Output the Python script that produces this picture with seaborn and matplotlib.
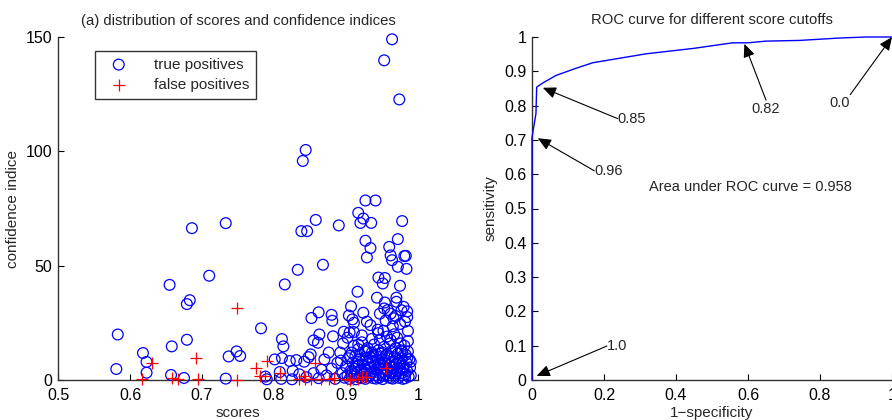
import matplotlib
matplotlib.use("Agg")
import matplotlib.pyplot as plt
import seaborn as sns
import numpy as np
import pandas as pd

# true positives : scores / confidence indices
tp_scores = [
    0.964, 0.953, 0.974, 0.844, 0.840, 0.941, 0.927, 0.917, 0.924, 0.920,
    0.935, 0.978, 0.733, 0.858, 0.890, 0.686, 0.838, 0.846, 0.927, 0.972,
    0.934, 0.960, 0.962, 0.964, 0.929, 0.981, 0.983, 0.972, 0.984, 0.868,
    0.833, 0.710, 0.945, 0.954, 0.951, 0.655, 0.815, 0.975, 0.916, 0.683,
    0.679, 0.943, 0.970, 0.970, 0.954, 0.907, 0.953, 0.958, 0.980, 0.985,
    0.962, 0.969, 0.862, 0.924, 0.880, 0.904, 0.852, 0.881, 0.909, 0.911,
    0.929, 0.982, 0.782, 0.897, 0.905, 0.911, 0.945, 0.952, 0.986, 0.583,
    0.863, 0.882, 0.811, 0.679, 0.855, 0.861, 0.936, 0.962, 0.971, 0.658,
    0.813, 0.917, 0.618, 0.748, 0.753, 0.737, 0.851, 0.623, 0.623, 0.581,
    0.801, 0.811, 0.822, 0.831, 0.842, 0.848, 0.657, 0.675, 0.733, 0.788,
    0.790, 0.810, 0.825, 0.808, 0.826, 0.835, 0.845, 0.855, 0.862, 0.866,
    0.873, 0.880, 0.885, 0.888, 0.870, 0.876,
    0.900, 0.902, 0.903, 0.905, 0.906, 0.908, 0.909, 0.910, 0.911, 0.912,
    0.913, 0.914, 0.915, 0.916, 0.917, 0.918, 0.919, 0.920, 0.921, 0.922,
    0.923, 0.924, 0.925, 0.926, 0.927, 0.928, 0.929, 0.930, 0.931, 0.932,
    0.933, 0.934, 0.935, 0.936, 0.937, 0.938, 0.939, 0.940, 0.941, 0.942,
    0.943, 0.944, 0.945, 0.946, 0.947, 0.948, 0.949, 0.950, 0.951, 0.952,
    0.953, 0.954, 0.955, 0.956, 0.957, 0.958, 0.959, 0.960, 0.961, 0.962,
    0.963, 0.964, 0.965, 0.966, 0.967, 0.968, 0.969, 0.970, 0.971, 0.972,
    0.973, 0.974, 0.975, 0.976, 0.977, 0.978, 0.979, 0.980, 0.981, 0.982,
    0.983, 0.984, 0.985, 0.986, 0.987, 0.988, 0.989, 0.990,
    0.905, 0.915, 0.925, 0.935, 0.945, 0.955, 0.965, 0.975, 0.985, 0.912,
    0.922, 0.932, 0.942, 0.952, 0.962, 0.972, 0.982, 0.928, 0.938, 0.948,
    0.958, 0.968, 0.978, 0.908, 0.918, 0.940, 0.950, 0.960, 0.970, 0.980,
    0.990, 0.895, 0.893, 0.898, 0.892, 0.896, 0.902, 0.957, 0.967, 0.947,
    0.976, 0.986, 0.944, 0.965, 0.975, 0.955, 0.985, 0.934, 0.922, 0.966,
    0.947, 0.977,
]
tp_conf = [
    149.0, 139.8, 122.7, 100.6, 95.8, 78.5, 78.5, 73.1, 70.6, 68.7,
    68.7, 69.5, 68.6, 70.0, 67.6, 66.4, 65.1, 65.1, 60.9, 61.6,
    57.7, 58.2, 54.5, 52.4, 53.6, 54.2, 54.3, 49.5, 48.6, 50.4,
    48.2, 45.6, 44.8, 44.6, 42.2, 41.6, 41.8, 41.2, 38.6, 34.9,
    33.2, 36.0, 36.0, 34.2, 33.9, 32.2, 31.3, 30.6, 32.0, 30.0,
    29.0, 28.0, 29.6, 29.4, 28.5, 28.2, 27.1, 25.9, 26.5, 25.0,
    25.5, 25.5, 22.6, 21.1, 20.8, 21.0, 20.5, 21.5, 21.5, 19.9,
    19.9, 19.1, 17.9, 17.6, 17.3, 16.3, 18.0, 17.5, 18.5, 14.7,
    14.7, 15.5, 11.8, 12.5, 10.5, 10.3, 11.2, 7.9, 3.2, 4.8,
    9.0, 9.6, 8.3, 8.7, 8.0, 10.0, 2.2, 0.9, 0.6, 1.5,
    0.3, 0.5, 0.3, 3.5, 4.0, 2.5, 1.2, 3.0, 0.8, 4.5,
    2.0, 5.0, 0.5, 7.5, 9.0, 12.0,
    6.0, 2.0, 9.5, 0.5, 4.0, 12.0, 7.5, 1.5, 15.0, 5.0,
    10.5, 0.3, 3.0, 8.0, 13.5, 6.5, 1.0, 11.0, 4.5, 16.5,
    8.5, 2.5, 6.0, 12.5, 0.5, 9.5, 4.0, 14.0, 7.0, 1.5,
    10.0, 5.5, 3.0, 12.0, 8.0, 0.8, 15.5, 6.0, 2.0, 10.5,
    4.5, 8.5, 13.0, 1.0, 6.5, 11.5, 3.5, 9.0, 0.4, 5.0,
    14.5, 7.5, 2.5, 11.0, 4.0, 9.5, 1.2, 6.5, 16.0, 3.0,
    12.5, 8.0, 0.6, 5.5, 10.0, 2.0, 14.0, 7.0, 4.0, 11.5,
    1.0, 8.5, 5.0, 13.0, 3.0, 9.5, 0.5, 6.0, 15.0, 2.5,
    11.0, 7.5, 4.0, 12.5, 1.5, 9.0, 5.5, 2.0,
    10.5, 6.0, 3.5, 8.5, 5.5, 7.0, 3.5, 7.5, 9.5, 2.5,
    0.8, 5.0, 0.6, 2.0, 0.9, 5.5, 0.8, 13.0, 11.0, 7.0,
    4.5, 8.0, 12.5, 3.5, 9.0, 3.5, 12.0, 10.0, 2.8, 4.5,
    8.0, 3.0, 8.5, 1.0, 12.0, 16.0, 18.5, 19.0, 20.0, 17.5,
    16.0, 17.0, 22.0, 23.5, 24.5, 26.0, 27.5, 24.0, 19.5, 27.0,
    29.0, 30.5,
]

# false positives
fp_scores = [0.617, 0.631, 0.658, 0.666, 0.691, 0.694, 0.748, 0.749, 0.775, 0.790,
             0.781, 0.788, 0.808, 0.835, 0.842, 0.843, 0.857, 0.852, 0.865, 0.876,
             0.884, 0.901, 0.906, 0.910, 0.917, 0.922, 0.928, 0.955]
fp_conf = [0.4, 7.4, 0.7, 0.4, 9.8, 0.4, 0.1, 31.3, 5.2, 8.3,
           1.7, 1.9, 3.2, 0.3, 1.7, 0.5, 7.3, 0.4, 0.5, 0.3,
           0.8, 0.6, 0.1, 0.5, 0.3, 1.5, 1.4, 5.2]

# ROC curve
fpr = [0.0, 0.0, 0.0, 0.011, 0.013, 0.03, 0.067, 0.12, 0.169, 0.317,
       0.45, 0.557, 0.599, 0.65, 0.743, 0.854, 0.928, 1.0]
tpr = [0.0, 0.02, 0.707, 0.777, 0.854, 0.866, 0.888, 0.908, 0.925, 0.951,
       0.967, 0.983, 0.983, 0.988, 0.990, 0.997, 1.0, 1.0]

cutoff_labels = ["1.0", "0.96", "0.85", "0.82", "0.0"]
cutoff_heads = [(0.013, 0.012), (0.016, 0.705), (0.03, 0.852), (0.59, 0.98), (1.0, 1.0)]
cutoff_tails = [(0.208, 0.099), (0.173, 0.61), (0.238, 0.762), (0.65, 0.816), (0.884, 0.832)]
auc = 0.958

sns.set_style("ticks")
plt.rcParams["font.family"] = ["Liberation Sans", "DejaVu Sans"]
plt.rcParams["xtick.direction"] = "in"
plt.rcParams["ytick.direction"] = "in"

fig = plt.figure(figsize=(8.92, 4.2), dpi=100)
ax1 = fig.add_axes([58 / 892, 40 / 420, 360 / 892, 343 / 420])
ax2 = fig.add_axes([532 / 892, 40 / 420, 360 / 892, 343 / 420])

tp = pd.DataFrame({"scores": tp_scores, "conf": tp_conf})
fp = pd.DataFrame({"scores": fp_scores, "conf": fp_conf})

sns.scatterplot(data=tp, x="scores", y="conf", ax=ax1, marker="o", s=60,
                facecolor="none", edgecolor="#0000ff", linewidth=0.9,
                label="true positives", clip_on=False, zorder=3)
sns.scatterplot(data=fp, x="scores", y="conf", ax=ax1, marker="+", s=70,
                color="#ff0000", linewidth=0.9,
                label="false positives", clip_on=False, zorder=4)

ax1.set_xlim(0.5, 1)
ax1.set_ylim(0, 150)
ax1.set_xticks([0.5, 0.6, 0.7, 0.8, 0.9, 1.0])
ax1.set_xticklabels(["0.5", "0.6", "0.7", "0.8", "0.9", "1"])
ax1.set_yticks([0, 50, 100, 150])
ax1.set_xlabel("scores", fontsize=11, labelpad=2)
ax1.set_ylabel("confidence indice", fontsize=11, labelpad=4)
ax1.set_title("(a) distribution of scores and confidence indices", fontsize=10.7, pad=9)
leg = ax1.legend(loc="upper left", bbox_to_anchor=(0.103, 0.96), borderaxespad=0,
                 fontsize=11, frameon=True, fancybox=False, edgecolor="black",
                 handletextpad=1.2, borderpad=0.45, labelspacing=0.4, handlelength=2.2)
leg.get_frame().set_linewidth(1.0)
# legend markers in the same pure colours as the points
h_tp, h_fp = leg.legend_handles
h_tp.set_edgecolor("#0000ff")
h_tp.set_facecolor("none")
h_fp.set_color("#ff0000")

roc = pd.DataFrame({"fpr": fpr, "tpr": tpr})
sns.lineplot(data=roc, x="fpr", y="tpr", ax=ax2, color="#0000ff", linewidth=1.0,
             sort=False, estimator=None, clip_on=False, zorder=3)
ax2.set_xlim(0, 1)
ax2.set_ylim(0, 1)
ax2.set_xticks([0, 0.2, 0.4, 0.6, 0.8, 1.0])
ax2.set_xticklabels(["0", "0.2", "0.4", "0.6", "0.8", "1"])
ax2.set_yticks(np.round(np.arange(0, 1.01, 0.1), 1))
ax2.set_yticklabels(["0", "0.1", "0.2", "0.3", "0.4", "0.5", "0.6", "0.7", "0.8", "0.9", "1"])
ax2.set_xlabel("1\u2212specificity", fontsize=11, labelpad=2)
ax2.set_ylabel("sensitivity", fontsize=11, labelpad=5)
ax2.set_title("ROC curve for different score cutoffs", fontsize=10.7, pad=9)

for lab, head, tail in zip(cutoff_labels, cutoff_heads, cutoff_tails):
    ax2.annotate("", xy=head, xytext=tail,
                 arrowprops=dict(arrowstyle="-|>,head_length=0.8,head_width=0.35",
                                 color="black", lw=0.8, shrinkA=0, shrinkB=0),
                 annotation_clip=False)
    if lab == "0.82":
        ax2.text(tail[0], tail[1] - 0.005, lab, ha="center", va="top", fontsize=10.5)
    elif lab == "0.0":
        ax2.text(tail[0] - 0.002, tail[1] - 0.005, lab, ha="right", va="top", fontsize=10.5)
    else:
        ax2.text(tail[0], tail[1], lab, ha="left", va="center", fontsize=10.5)

ax2.text(0.324, 0.563, f"Area under ROC curve = {auc}", ha="left", va="center", fontsize=10.5)

for ax in (ax1, ax2):
    sns.despine(ax=ax)
    ax.tick_params(labelsize=11.5, length=4, width=0.8, colors="black")
    ax.tick_params(axis="x", pad=6)
    ax.tick_params(axis="y", pad=4)
    for sp in ("left", "bottom"):
        ax.spines[sp].set_color("#333333")
        ax.spines[sp].set_linewidth(1.0)

fig.savefig("out.png", dpi=100)
